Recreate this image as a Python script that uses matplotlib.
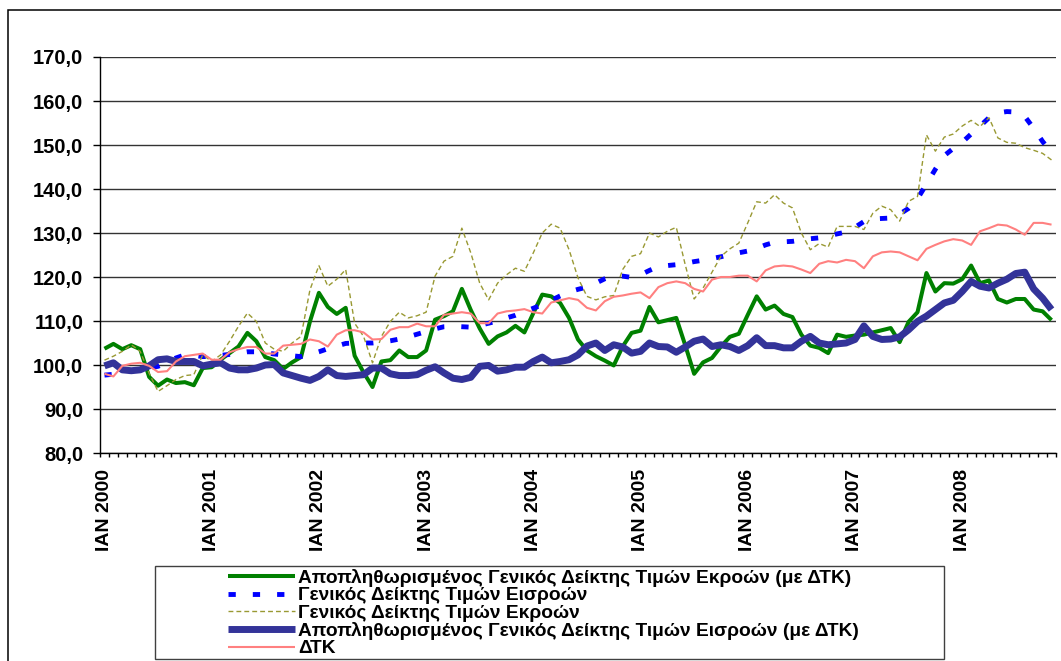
import matplotlib as mpl

mpl.use("Agg")
import matplotlib.pyplot as plt
import numpy as np
from matplotlib.patches import Rectangle
from matplotlib.ticker import FixedLocator, FuncFormatter

# Monthly data, January 2000 - November 2008 (107 months).
YEARS = [2000, 2001, 2002, 2003, 2004, 2005, 2006, 2007, 2008]
X_LABELS = [f"ΙΑΝ {year}" for year in YEARS]

DEFLATED_OUTPUT = [
    103.7, 104.8, 103.6, 104.5, 103.6, 97.3, 95.3, 96.7, 95.9, 96.1,
    95.4, 99.3, 99.5, 101.2, 102.7, 104.2, 107.3, 105.4, 101.8, 101.1,
    99.1, 100.6, 101.8, 109.9, 116.4, 113.2, 111.6, 113.0, 102.1, 98.3,
    95.0, 100.8, 101.1, 103.3, 101.8, 101.8, 103.3, 110.3, 111.1, 112.2,
    117.3, 112.5, 108.3, 104.8, 106.5, 107.4, 108.9, 107.4, 111.8, 116.0,
    115.6, 114.1, 110.7, 105.8, 103.3, 102.0, 101.0, 99.9, 104.2, 107.3,
    107.8, 113.2, 109.7, 110.2, 110.7, 104.5, 98.0, 100.6, 101.6, 104.2,
    106.4, 107.1, 111.4, 115.6, 112.6, 113.5, 111.6, 110.9, 106.9, 104.4,
    103.9, 102.7, 106.9, 106.4, 106.7, 106.9, 107.4, 107.9, 108.4, 105.2,
    109.8, 112.0, 120.9, 116.7, 118.6, 118.5, 119.5, 122.6, 118.6, 119.2,
    115.0, 114.2, 115.0, 115.0, 112.6, 112.2, 110.2,
]

INPUT_INDEX = [
    97.7, 97.9, 98.2, 98.6, 99.0, 99.3, 99.7, 100.6, 101.6, 102.3,
    102.2, 101.9, 102.0, 102.2, 102.4, 102.7, 103.0, 103.0, 102.8, 102.5,
    102.3, 102.1, 101.9, 102.4, 103.0, 103.7, 104.3, 104.9, 105.0, 105.0,
    105.0, 105.2, 105.5, 105.9, 106.4, 107.0, 107.6, 108.2, 108.7, 108.8,
    108.7, 108.6, 109.0, 109.5, 110.0, 110.7, 111.3, 112.1, 112.9, 113.7,
    114.7, 115.7, 116.6, 117.2, 117.7, 118.6, 119.6, 120.3, 120.2, 119.9,
    120.5, 121.5, 122.4, 122.6, 122.8, 123.1, 123.5, 123.8, 124.2, 124.6,
    125.1, 125.5, 125.9, 126.5, 127.3, 127.9, 128.0, 128.1, 128.4, 128.7,
    128.9, 129.3, 129.8, 130.2, 131.3, 132.6, 133.2, 133.3, 133.4, 134.3,
    135.6, 137.8, 141.1, 144.5, 147.6, 149.2, 150.6, 152.5, 154.3, 156.2,
    157.3, 157.6, 157.5, 156.5, 153.8, 150.8, 148.3,
]

OUTPUT_INDEX = [
    101.1, 102.0, 103.1, 104.6, 103.1, 98.1, 94.0, 95.3, 96.7, 97.6,
    97.8, 102.3, 100.8, 102.3, 105.4, 108.8, 111.8, 109.9, 105.0, 103.6,
    103.1, 105.0, 106.5, 117.1, 122.6, 117.9, 119.5, 121.7, 109.5, 106.5,
    100.5, 106.5, 109.9, 112.0, 110.7, 111.2, 112.0, 120.2, 123.6, 124.7,
    131.1, 125.5, 118.6, 114.8, 118.6, 120.5, 122.0, 121.3, 125.5, 130.0,
    132.0, 131.1, 126.2, 119.8, 115.6, 114.8, 115.5, 115.8, 121.7, 124.7,
    125.3, 130.0, 129.1, 130.4, 131.3, 122.8, 115.0, 117.5, 121.1, 124.7,
    126.4, 127.7, 132.3, 137.1, 136.8, 138.7, 136.8, 135.7, 130.0, 126.2,
    127.6, 126.8, 131.5, 131.5, 131.5, 130.8, 134.5, 136.1, 135.3, 132.7,
    137.2, 138.3, 152.3, 148.6, 151.8, 152.5, 154.3, 155.6, 154.2, 156.2,
    151.6, 150.6, 150.4, 149.4, 148.8, 148.1, 146.6,
]

DEFLATED_INPUT = [
    99.8, 100.5, 98.9, 98.7, 98.9, 99.8, 101.2, 101.4, 100.8, 100.8,
    100.8, 99.8, 100.2, 100.5, 99.3, 98.9, 98.9, 99.3, 100.0, 100.1,
    98.2, 97.6, 97.0, 96.5, 97.4, 98.9, 97.6, 97.4, 97.6, 97.8,
    99.3, 99.3, 98.0, 97.6, 97.6, 97.8, 98.8, 99.6, 98.2, 97.0,
    96.7, 97.2, 99.7, 99.9, 98.6, 98.9, 99.5, 99.5, 100.8, 101.8,
    100.5, 100.8, 101.2, 102.3, 104.3, 105.0, 103.3, 104.6, 104.1, 102.7,
    103.1, 105.0, 104.2, 104.1, 102.9, 104.1, 105.4, 105.9, 104.2, 104.6,
    104.2, 103.3, 104.4, 106.2, 104.4, 104.4, 103.9, 103.9, 105.4, 106.5,
    105.0, 104.6, 104.8, 105.0, 105.8, 108.9, 106.5, 105.8, 105.9, 106.4,
    108.0, 109.9, 111.1, 112.6, 114.1, 114.7, 116.7, 119.0, 117.9, 117.5,
    118.6, 119.5, 120.8, 121.1, 117.3, 115.2, 112.6,
]

CPI = [
    98.0, 97.4, 99.8, 100.3, 100.5, 99.8, 98.4, 98.6, 100.8, 102.0,
    102.3, 102.6, 101.2, 101.2, 102.9, 103.6, 104.1, 104.1, 102.6, 102.6,
    104.4, 104.6, 104.8, 105.8, 105.4, 104.2, 106.9, 107.9, 107.9, 107.4,
    105.8, 105.9, 108.0, 108.6, 108.6, 109.4, 108.8, 108.8, 111.4, 111.7,
    112.0, 111.7, 109.5, 109.5, 111.7, 112.2, 112.4, 112.7, 112.0, 111.7,
    114.2, 114.7, 115.2, 114.8, 113.0, 112.4, 114.5, 115.5, 115.8, 116.2,
    116.5, 115.2, 117.7, 118.6, 119.0, 118.6, 117.3, 116.7, 119.4, 120.0,
    120.0, 120.3, 120.3, 119.0, 121.5, 122.4, 122.6, 122.4, 121.7, 120.9,
    123.0, 123.6, 123.3, 123.9, 123.6, 122.0, 124.7, 125.6, 125.8, 125.6,
    124.7, 123.8, 126.4, 127.3, 128.1, 128.6, 128.3, 127.3, 130.4, 131.1,
    131.9, 131.7, 130.8, 129.6, 132.3, 132.3, 131.9,
]

SERIES_LABELS = [
    "Αποπληθωρισμένος Γενικός Δείκτης Τιμών Εκροών (με ΔΤΚ)",
    "Γενικός Δείκτης Τιμών Εισροών",
    "Γενικός Δείκτης Τιμών Εκροών",
    "Αποπληθωρισμένος Γενικός Δείκτης Τιμών Εισροών (με ΔΤΚ)",
    "ΔΤΚ",
]

SERIES_STYLES = [
    {"color": "#008000", "linewidth": 2.9},
    {"color": "#0000FF", "linewidth": 3.5, "dashes": (1.5, 3.5)},
    {"color": "#999933", "linewidth": 1.0, "dashes": (3.5, 2.2)},
    {"color": "#333399", "linewidth": 5.0},
    {"color": "#FF8080", "linewidth": 1.5},
]

W, H = 1061, 661


def apply_style() -> None:
    mpl.rcParams.update(
        {
            "font.family": ["Liberation Sans", "DejaVu Sans"],
            "font.weight": "bold",
            "axes.linewidth": 1.0,
            "lines.solid_capstyle": "butt",
            "lines.dash_capstyle": "butt",
        }
    )


def main() -> None:
    apply_style()
    fig = plt.figure(figsize=(W / 100, H / 100), dpi=100)
    ax = fig.add_axes([100 / W, 1 - 453 / H, 956 / W, 396 / H])

    series = [DEFLATED_OUTPUT, INPUT_INDEX, OUTPUT_INDEX, DEFLATED_INPUT, CPI]
    n = len(CPI)
    x = np.arange(n)
    handles = []
    for z, (values, label, style) in enumerate(zip(series, SERIES_LABELS, SERIES_STYLES)):
        (line,) = ax.plot(x, values, label=label, zorder=3 + z, **style)
        handles.append(line)

    ax.set_xlim(-0.5, n - 0.5)
    ax.set_ylim(80, 170)
    ax.set_yticks(np.arange(80, 171, 10))
    ax.yaxis.set_major_formatter(FuncFormatter(lambda v, _: f"{v:.1f}".replace(".", ",")))
    ax.yaxis.grid(True, color="#333333", linewidth=1.0)
    ax.set_axisbelow(True)
    for side in ("top", "right"):
        ax.spines[side].set_visible(False)

    ax.set_xticks(x[::12][: len(X_LABELS)])
    ax.set_xticklabels(X_LABELS, rotation=90)
    ax.xaxis.set_minor_locator(FixedLocator(np.arange(-0.5, n, 1.0)))
    ax.tick_params(axis="x", which="major", length=0, pad=11.5, labelsize=14)
    ax.tick_params(axis="x", which="minor", length=3, width=1, direction="out")
    ax.tick_params(axis="y", length=5, width=1, pad=7, labelsize=14.5)

    # outer chart border
    fig.patches.append(
        Rectangle((8 / W, -0.1), 1.2, 1.1 - 10 / H, transform=fig.transFigure,
                  fill=False, edgecolor="black", linewidth=1.1)
    )
    # legend border
    fig.patches.append(
        Rectangle((155 / W, 1 - 659 / H), 789 / W, 93 / H, transform=fig.transFigure,
                  fill=False, edgecolor="#404040", linewidth=1.0)
    )
    fig.legend(
        handles=handles,
        loc="upper left",
        bbox_to_anchor=(228 / W, 1 - 569 / H),
        bbox_transform=fig.transFigure,
        frameon=False,
        fontsize=13.8,
        handlelength=3.5,
        handletextpad=0.15,
        labelspacing=0.0,
        borderpad=0,
        borderaxespad=0,
    )

    fig.savefig("out.png", dpi=100)
    plt.close(fig)


if __name__ == "__main__":
    main()
